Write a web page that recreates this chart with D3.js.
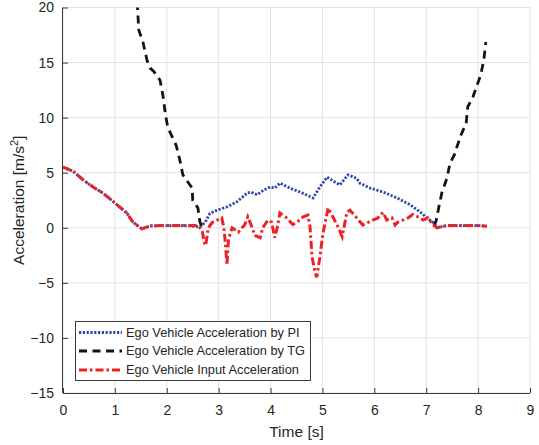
<!DOCTYPE html>
<html>
<head>
<meta charset="utf-8">
<script src="https://cdn.jsdelivr.net/npm/d3@7"></script>
<style>
  html, body { margin: 0; padding: 0; background: #fff; }
  svg { display: block; font-family: "Liberation Sans", Arial, sans-serif; }
</style>
</head>
<body>
<svg id="chart" width="539" height="445"></svg>
<script>
// ---- Data ----
const xTicks = [0, 1, 2, 3, 4, 5, 6, 7, 8, 9];
const yTicks = [-15, -10, -5, 0, 5, 10, 15, 20];
const seriesNames = ["Ego Vehicle Acceleration by PI", "Ego Vehicle Acceleration by TG", "Ego Vehicle Input Acceleration"];

// Input acceleration (red)
const inputT = [0, 0.19, 0.39, 0.58, 0.77, 1.0, 1.23, 1.35, 1.52, 1.68, 1.9, 2.3, 2.6, 2.68, 2.72, 2.75, 2.8, 2.88, 2.97, 3.06, 3.1, 3.13, 3.16, 3.19, 3.26, 3.32, 3.38, 3.45, 3.5, 3.56, 3.63, 3.70, 3.80, 3.85, 3.95, 4.02, 4.08, 4.14, 4.18, 4.31, 4.43, 4.53, 4.63, 4.72, 4.76, 4.80, 4.86, 4.89, 4.95, 5.01, 5.11, 5.2, 5.3, 5.38, 5.47, 5.53, 5.66, 5.78, 5.88, 5.97, 6.07, 6.17, 6.24, 6.34, 6.40, 6.45, 6.55, 6.65, 6.74, 6.84, 6.94, 7.03, 7.13, 7.21, 7.3, 7.4, 7.7, 8.0, 8.17];
const inputV = [5.5, 5.15, 4.34, 3.7, 3.15, 2.25, 1.34, 0.5, -0.1, 0.17, 0.2, 0.2, 0.2, -0.2, -1.3, -1.6, 0.0, 0.5, 0.7, 0.9, 0.0, -1.4, -3.4, -1.0, 0.0, -0.2, -0.4, 0.0, 0.25, 1.0, 0.2, -0.7, -0.9, 0.0, 0.7, 0.5, -0.9, 0.25, 1.35, 0.9, 0.3, 0.6, 1.0, 1.15, 0.1, -2.65, -4.1, -4.5, -2.7, -0.5, 1.8, 1.0, 0.1, -0.8, 1.4, 1.6, 0.9, 0.25, 0.5, 0.7, 0.9, 1.4, 0.7, 0.9, 0.25, 0.5, 0.7, 0.9, 1.2, 1.0, 0.7, 0.9, 0.25, 0.0, 0.1, 0.2, 0.2, 0.2, 0.15];

// PI acceleration (blue)
const piT = [0, 0.19, 0.39, 0.58, 0.77, 1.0, 1.23, 1.35, 1.52, 1.68, 1.9, 2.3, 2.64, 2.74, 2.83, 2.97, 3.16, 3.35, 3.55, 3.62, 3.74, 3.86, 3.99, 4.08, 4.18, 4.37, 4.57, 4.82, 4.95, 5.09, 5.24, 5.34, 5.49, 5.66, 5.72, 5.92, 6.17, 6.44, 6.69, 6.88, 7.01, 7.13, 7.21, 7.3, 7.4, 7.7, 8.0, 8.17];
const piV = [5.5, 5.15, 4.34, 3.7, 3.15, 2.25, 1.34, 0.5, -0.1, 0.17, 0.2, 0.2, 0.1, 0.5, 1.3, 1.6, 1.9, 2.35, 3.15, 3.25, 3.0, 3.4, 3.7, 3.6, 4.05, 3.6, 3.25, 2.7, 3.7, 4.6, 4.15, 3.9, 4.8, 4.5, 4.05, 3.6, 3.25, 2.7, 2.1, 1.45, 0.9, 0.5, 0.0, 0.1, 0.2, 0.2, 0.2, 0.15];

// TG acceleration (black), null = no value
const tgT = [1.43, 1.46, 1.54, 1.62, 1.68, 1.75, 1.87, 1.93, 1.97, 2.02, 2.18, 2.25, 2.31, 2.49, 2.50, 2.60, 2.64, 2.68, 5.0, 7.15, 7.19, 7.24, 7.30, 7.40, 7.46, 7.57, 7.59, 7.67, 7.77, 7.80, 7.90, 7.96, 8.05, 8.11, 8.15];
const tgV = [20.5, 17.96, 16.87, 15.2, 14.5, 14.2, 13.4, 11.9, 10.4, 9.1, 7.5, 6.2, 4.8, 3.6, 2.5, 1.8, 0.5, 0.1, null, 0.2, 0.6, 1.8, 3.16, 4.52, 5.88, 6.88, 7.33, 8.42, 9.51, 10.97, 11.87, 12.69, 13.87, 15.23, 16.87];

// ---- Layout ----
const svg = d3.select("#chart");
const L = 63, R = 530, T = 7.5, B = 393;
const x = d3.scaleLinear().domain([0, 9]).range([L, R]);
const y = d3.scaleLinear().domain([-15, 20]).range([B, T]);
const axisColor = "#3a3a3a";

// clip
svg.append("defs").append("clipPath").attr("id", "clip")
  .append("rect").attr("x", L).attr("y", T).attr("width", R - L).attr("height", B - T);

// grid
const grid = svg.append("g");
grid.selectAll(".gx").data(xTicks).enter().append("line")
  .attr("x1", d => x(d)).attr("x2", d => x(d)).attr("y1", T).attr("y2", B)
  .attr("stroke", "#e3e3e3").attr("stroke-width", 1);
grid.selectAll(".gy").data(yTicks).enter().append("line")
  .attr("y1", d => y(d)).attr("y2", d => y(d)).attr("x1", L).attr("x2", R)
  .attr("stroke", "#e3e3e3").attr("stroke-width", 1);

// axes
const xAxis = d3.axisBottom(x).tickValues(xTicks).tickSize(-5).tickPadding(12).tickFormat(d3.format("d"));
const yAxis = d3.axisLeft(y).tickValues(yTicks).tickSize(-5).tickPadding(9).tickFormat(d3.format("d"));
const gx = svg.append("g").attr("transform", `translate(0,${B})`).call(xAxis);
const gy = svg.append("g").attr("transform", `translate(${L},0)`).call(yAxis);
[gx, gy].forEach(g => {
  g.select(".domain").attr("stroke", axisColor);
  g.selectAll(".tick line").attr("stroke", axisColor);
  g.selectAll(".tick text").attr("fill", "#262626").style("font-size", "14px")
    .style("font-family", "'Liberation Sans', Arial, sans-serif");
});
gx.select(".domain").attr("d", `M${L},0.5H${R}`);
gy.select(".domain").attr("d", `M-0.5,${B}V${T}`);

// lines
const plot = svg.append("g").attr("clip-path", "url(#clip)");
const mk = (ts, vs) => ts.map((t, i) => ({ t, v: vs[i] }));
const line = d3.line().defined(d => d.v !== null).x(d => x(d.t)).y(d => y(d.v));

const styles = [
  { color: "#2f45b0", dash: "2.2,1.6", width: 2.8 },
  { color: "#141414", dash: "8,5.5", width: 2.8 },
  { color: "#ec2326", dash: "8,3,2.5,3", width: 3 }
];
plot.append("path").datum(mk(piT, piV)).attr("d", line)
  .attr("fill", "none").attr("stroke", styles[0].color).attr("stroke-width", styles[0].width)
  .attr("stroke-dasharray", styles[0].dash);
plot.append("path").datum(mk(tgT, tgV)).attr("d", line)
  .attr("fill", "none").attr("stroke", styles[1].color).attr("stroke-width", styles[1].width)
  .attr("stroke-dasharray", styles[1].dash);
plot.append("path").datum(mk(inputT, inputV)).attr("d", line)
  .attr("fill", "none").attr("stroke", styles[2].color).attr("stroke-width", styles[2].width)
  .attr("stroke-dasharray", styles[2].dash);

// axis labels
svg.append("text").attr("x", (L + R) / 2).attr("y", 437).attr("text-anchor", "middle")
  .attr("fill", "#262626").style("font-size", "15.5px").text("Time [s]");
const yl = svg.append("text").attr("transform", `translate(24,${(T + B) / 2}) rotate(-90)`)
  .attr("text-anchor", "middle").attr("fill", "#262626").style("font-size", "15.5px");
yl.append("tspan").text("Acceleration [m/s");
yl.append("tspan").attr("dy", -6).style("font-size", "11px").text("2");
yl.append("tspan").attr("dy", 6).text("]");

// legend
const lg = svg.append("g");
lg.append("rect").attr("x", 75.5).attr("y", 321.5).attr("width", 235).attr("height", 59)
  .attr("fill", "#fff").attr("stroke", axisColor).attr("stroke-width", 1);
const rows = [332.5, 351, 370];
seriesNames.forEach((name, i) => {
  lg.append("line").attr("x1", 79).attr("x2", 122).attr("y1", rows[i]).attr("y2", rows[i])
    .attr("stroke", styles[i].color).attr("stroke-width", styles[i].width)
    .attr("stroke-dasharray", styles[i].dash);
  lg.append("text").attr("x", 126).attr("y", rows[i]).attr("dy", "0.35em")
    .attr("fill", "#262626").style("font-size", "12.8px").text(name);
});
</script>
</body>
</html>
